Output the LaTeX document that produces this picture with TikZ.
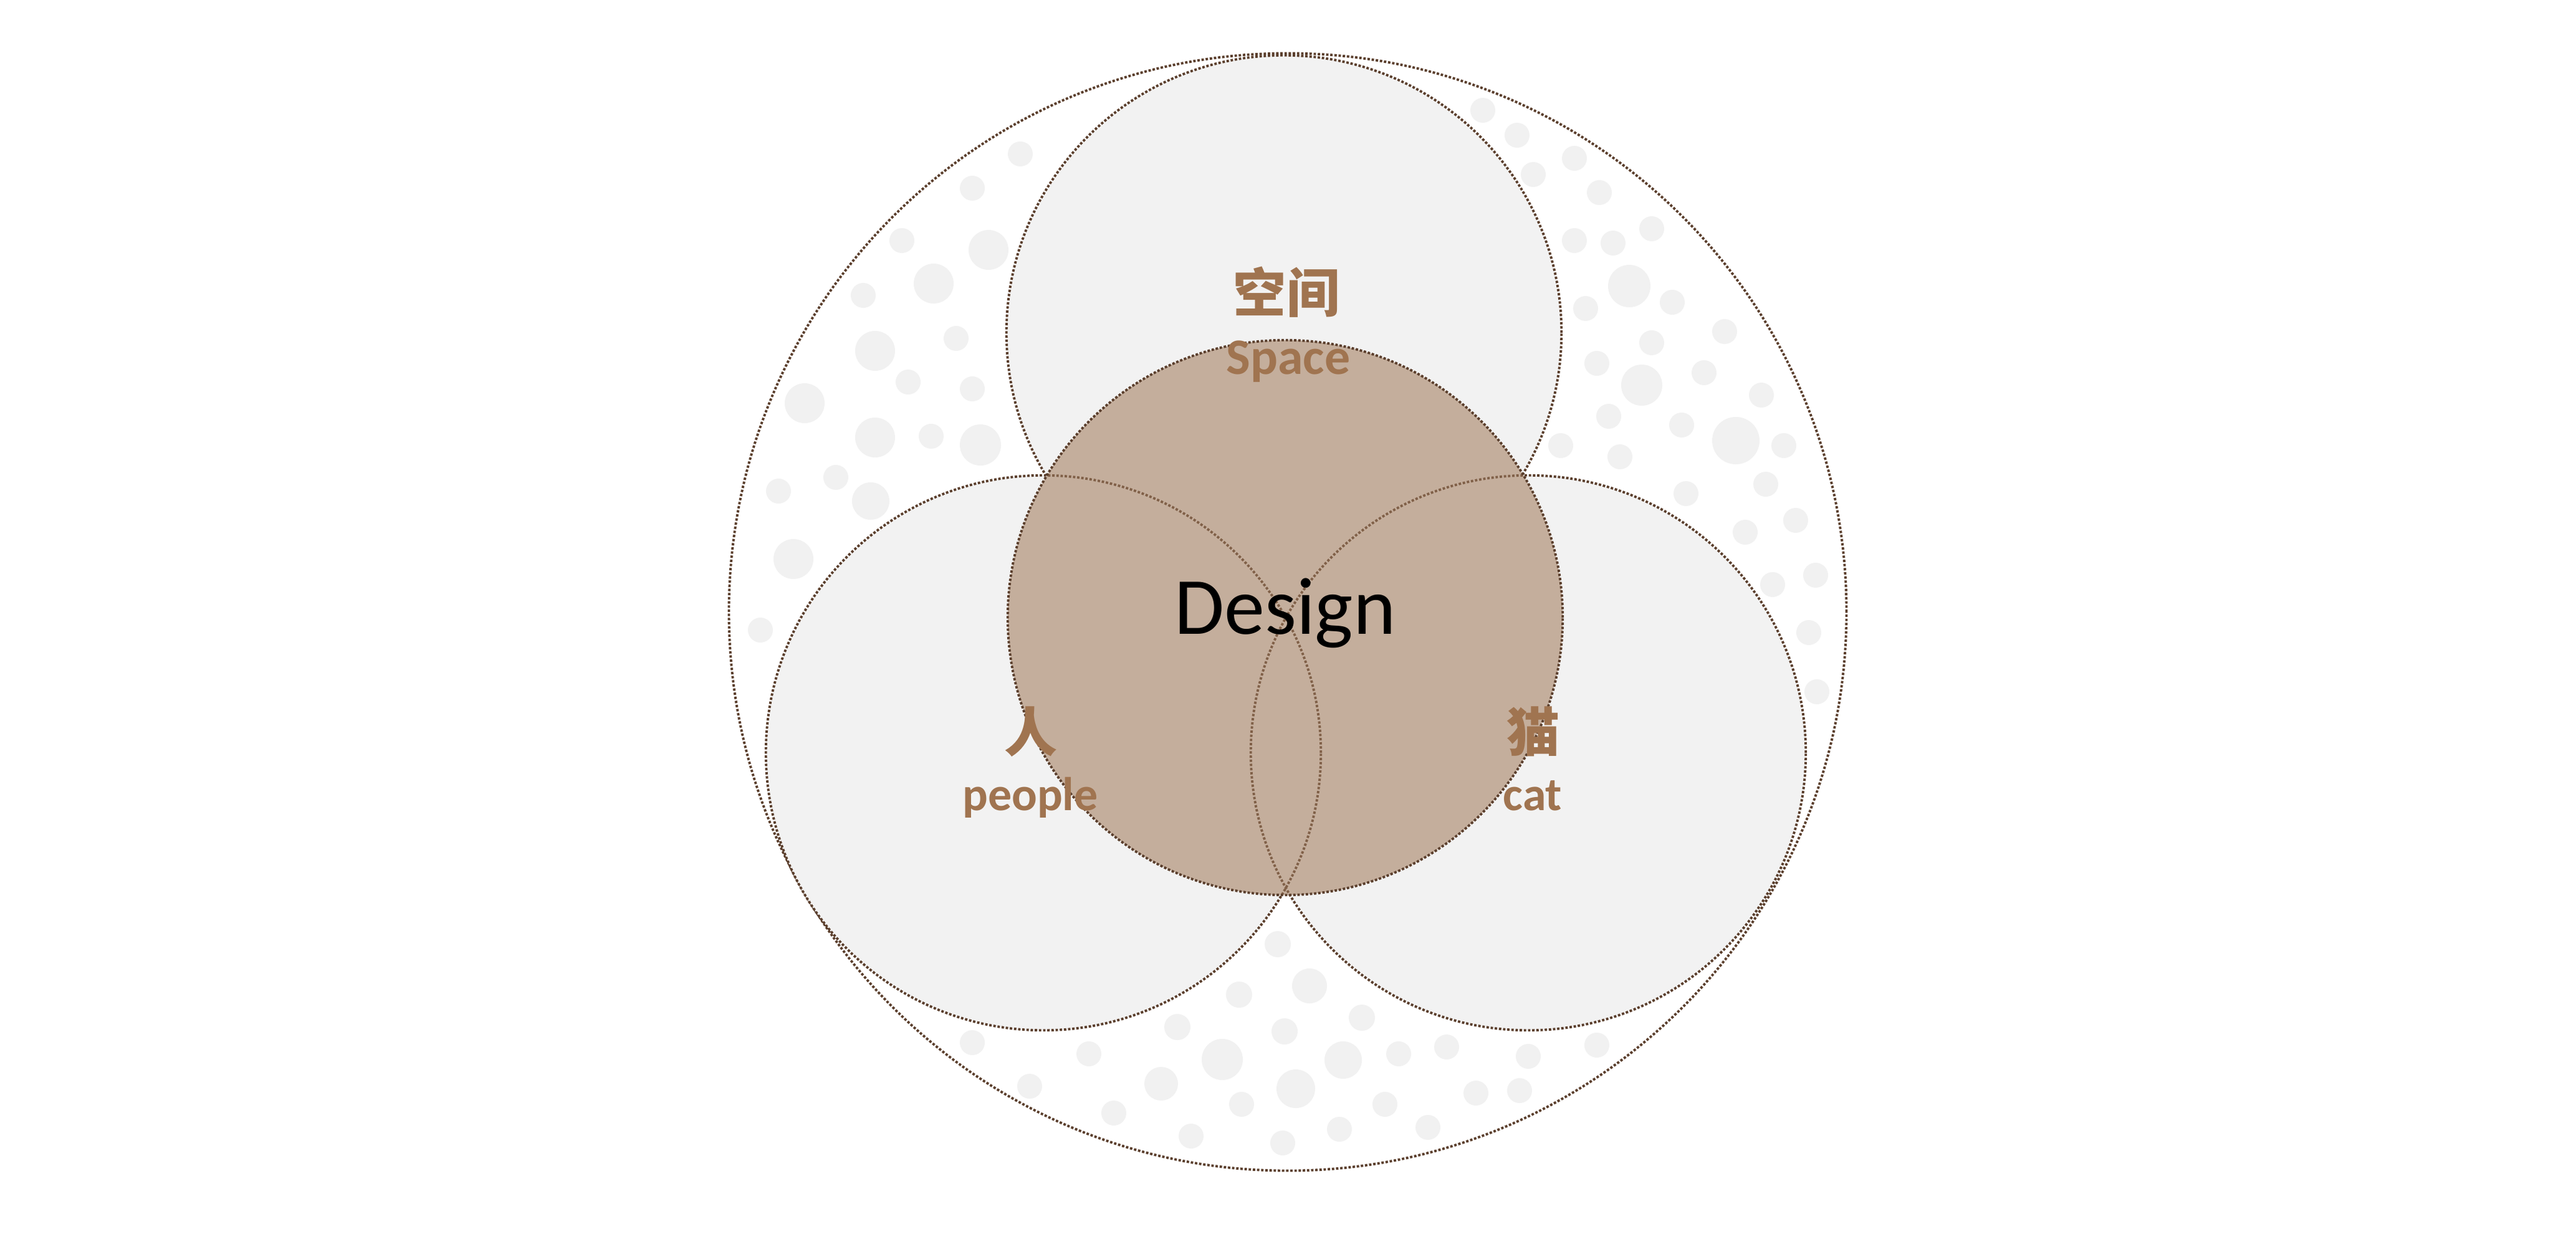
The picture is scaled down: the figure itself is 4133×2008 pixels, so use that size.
\documentclass[tikz,border=0pt]{standalone}
\usepackage{fontspec}
\setmainfont{Carlito}
\newfontfamily\cjk{Noto Sans CJK SC}
\definecolor{linec}{RGB}{90,62,44}
\definecolor{innerline}{RGB}{128,96,72}
\definecolor{grayfill}{RGB}{242,242,242}
\definecolor{dotc}{RGB}{241,241,241}
\definecolor{brownfill}{RGB}{196,174,156}
\definecolor{labelc}{RGB}{160,116,80}
\tikzset{
  ringline/.style={draw=linec, line width=1.1pt, dash pattern=on 1.1pt off 0.8pt},
  innerring/.style={draw=innerline, line width=1.1pt, dash pattern=on 1.1pt off 0.8pt},
  cjklab/.style={text=labelc, inner sep=0pt, anchor=base, font=\cjk\bfseries\fontsize{24.2pt}{29pt}\selectfont},
  enlab/.style={text=labelc, inner sep=0pt, anchor=base, font=\bfseries\fontsize{21.6pt}{26pt}\selectfont},
}
\begin{document}
\begin{tikzpicture}[x=0.01cm,y=-0.01cm]
\useasboundingbox (0,0) rectangle (4133,2008);
\fill[white] (0,0) rectangle (4133,2008);
% outer circle
\draw[ringline] (2066,982) circle[radius=8.96cm];
% dots
\foreach \px/\py/\pr in {
 1637/247/20,1560/302/20,1447/386/20,1586/401/32,1498/455/32,1385/474/20,1534/543/20,
 1404/563/32,1457/613/20,1560/624/20,1291/647/32,1404/702/32,1494/700/20,1573/714/33,
 1341/766/20,1249/788/20,1397/804/30,1273/897/32,1220/1011/20,
 2379/177/20,2434/217/20,2526/254/20,2460/280/20,2566/309/20,2650/367/20,2526/386/20,
 2588/390/20,2614/459/34,2683/485/20,2544/495/20,2767/532/20,2650/550/20,2562/583/20,
 2634/618/33,2734/598/20,2826/634/20,2581/668/20,2698/682/20,2785/707/38,2862/715/20,
 2504/715/20,2599/733/20,2833/777/20,2705/792/20,2881/835/20,2800/854/20,2913/923/20,
 2844/938/20,2902/1015/20,2915/1110/20,
 2050/1515/21,2101/1582/28,1988/1596/21,2185/1633/21,1889/1648/21,2061/1655/21,
 1560/1673/20,1747/1691/20,1961/1700/33,2155/1701/30,2244/1691/20,2321/1680/20,
 2452/1695/20,2562/1677/20,1652/1743/20,1863/1739/27,2079/1747/31,2368/1754/20,
 2438/1750/20,1787/1786/20,1992/1772/20,2222/1772/20,1911/1823/20,2058/1834/20,
 2149/1812/20,2291/1809/20}
 \fill[dotc] (\px,\py) circle[radius=\pr*0.01cm];
% three circles
\fill[grayfill] (2060,534) circle[radius=4.45cm];
\draw[ringline] (2060,534) circle[radius=4.45cm];
\fill[grayfill] (1674,1208) circle[radius=4.45cm];
\draw[ringline] (1674,1208) circle[radius=4.45cm];
\fill[grayfill] (2452,1208) circle[radius=4.45cm];
\draw[ringline] (2452,1208) circle[radius=4.45cm];
% central brown circle
\fill[brownfill] (2062,991) circle[radius=4.45cm];
\begin{scope}
  \clip (2062,991) circle[radius=4.45cm];
  \draw[innerring] (1674,1208) circle[radius=4.45cm];
  \draw[innerring] (2452,1208) circle[radius=4.45cm];
\end{scope}
\draw[ringline] (2062,991) circle[radius=4.45cm];
% labels
\node[cjklab] (kongjian) at (2064,501) {空间};
\node[enlab, font=\bfseries\fontsize{23.3pt}{28pt}\selectfont] (space) at (2067,600) {Space};
\node[inner sep=0pt, anchor=base, font=\fontsize{37pt}{44pt}\selectfont] (design) at (2062,1017) {Design};
\node[cjklab] (ren) at (1654,1206) {人};
\node[enlab] (people) at (1653,1300) {people};
\node[cjklab] (mao) at (2460,1206) {猫};
\node[enlab] (cat) at (2459,1300) {cat};
\end{tikzpicture}
\end{document}
